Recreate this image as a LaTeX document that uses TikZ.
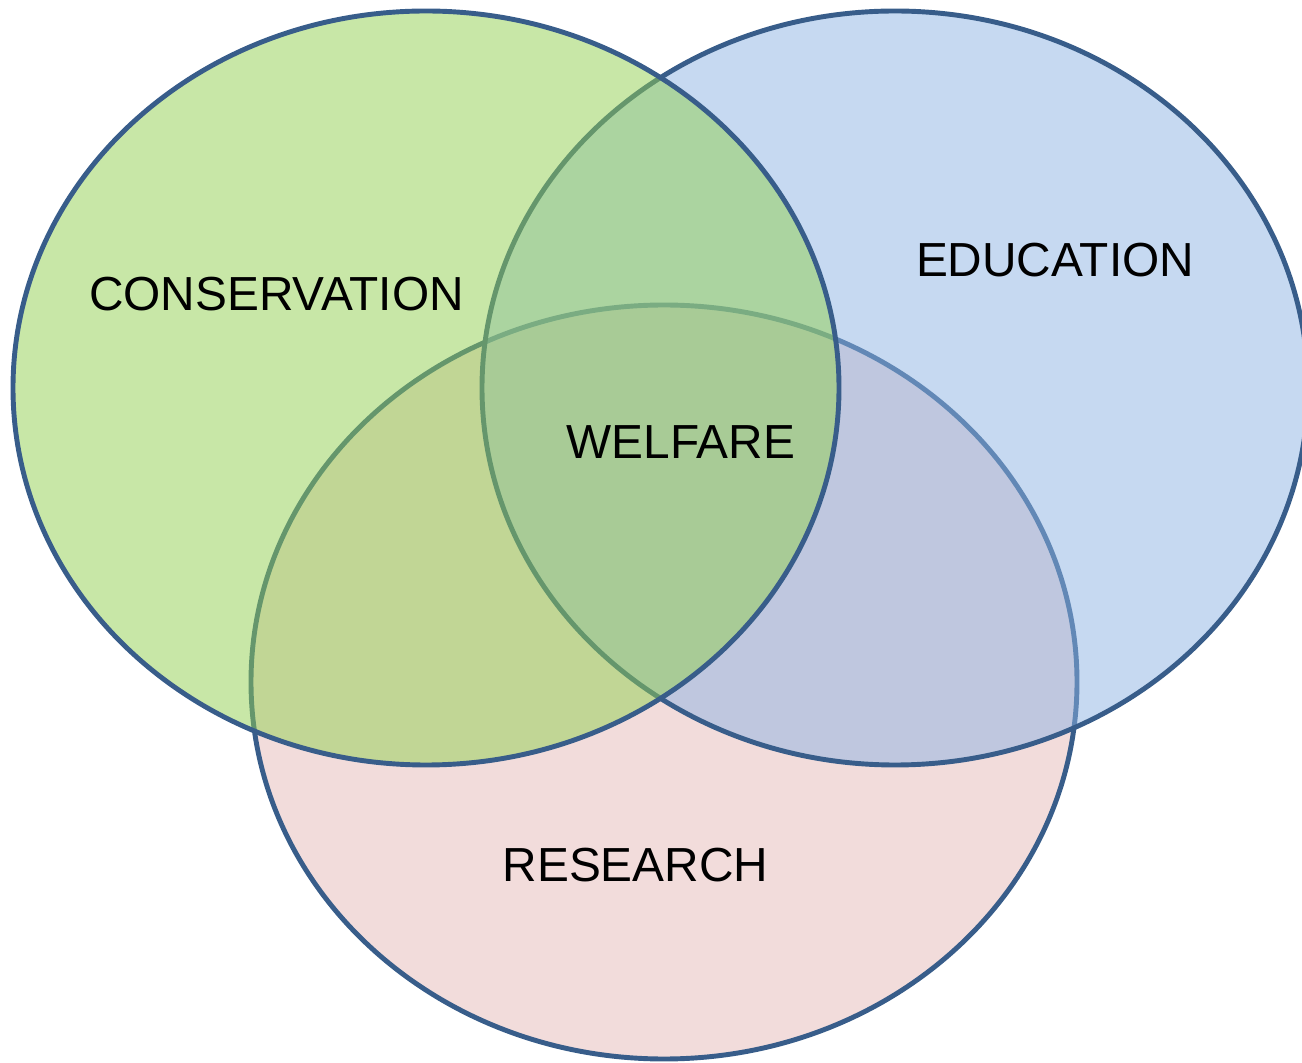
\documentclass[tikz,border=0pt]{standalone}
\usepackage{fontspec}
\setmainfont{Liberation Sans}
\usepackage{color}

\definecolor{rimblue}{RGB}{56,93,138}
\definecolor{consgreen}{RGB}{146,208,80}
\definecolor{edublue}{RGB}{141,179,227}
\definecolor{respink}{RGB}{229,185,183}

\begin{document}
\begin{tikzpicture}[%
      every node/.style={font=\fontsize{13.6}{16}\selectfont, inner sep=0pt},
      ]
      \useasboundingbox (0,0) rectangle (13.02,10.62);
      \clip (0,0) rectangle (13.02,10.62);

      \filldraw [fill=respink, fill opacity=0.5, draw=rimblue, line width=1.4pt, solid] (6.64,3.80) ellipse (4.13 and 3.77);
      \filldraw [fill=edublue, fill opacity=0.5, draw=rimblue, line width=1.4pt, solid] (8.95,6.74) ellipse (4.13 and 3.77);
      \filldraw [fill=consgreen, fill opacity=0.5, draw=rimblue, line width=1.4pt, solid] (4.26,6.74) ellipse (4.13 and 3.77);

      \node (conservation) at (2.765,7.675) {CONSERVATION};
      \node (education) at (10.55,8.015) {EDUCATION};
      \node (welfare) at (6.81,6.20) {WELFARE};
      \node (research) at (6.355,1.97) {RESEARCH};
      \end{tikzpicture}
\end{document}
